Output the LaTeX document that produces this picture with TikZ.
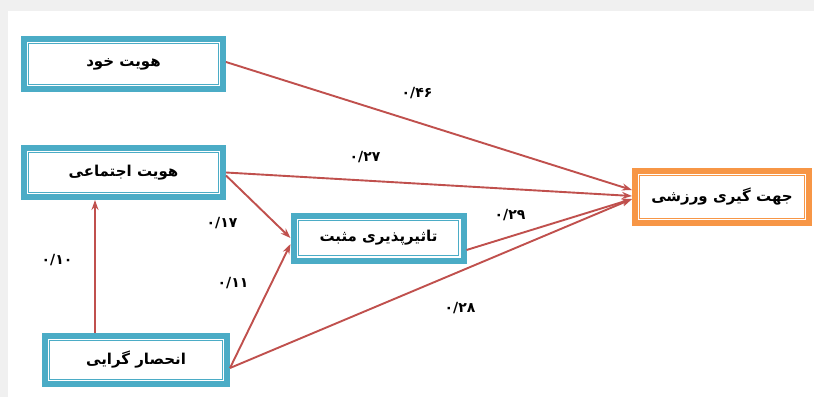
\documentclass[tikz,border=0pt]{standalone}
\usepackage{fontspec}
\usepackage{xcolor}
\usetikzlibrary{arrows.meta}
\TeXXeTstate=1
\newfontfamily\farsi[Script=Arabic]{DejaVu Sans}
\newcommand{\fabox}{\fontsize{15pt}{17pt}\selectfont}
\newcommand{\facoef}{\fontsize{14pt}{16pt}\selectfont}
\definecolor{boxblue}{HTML}{4BACC6}
\definecolor{boxorange}{HTML}{F79646}
\definecolor{pathred}{HTML}{C0504D}

\begin{document}
\begin{tikzpicture}[x=1pt,y=-1pt,
    varbox/.style={draw=#1, line width=6pt, fill=white, inner sep=0pt,
      font=\farsi\bfseries\fabox,
      path picture={\draw[#1, line width=1pt]
        ([shift={(4.6pt,4.6pt)}]path picture bounding box.south west) rectangle
        ([shift={(-4.6pt,-4.6pt)}]path picture bounding box.north east);}},
    effect/.style={draw=pathred, line width=1.9pt, -{Stealth[length=10pt,width=7pt]}},
    coef/.style={font=\farsi\bfseries\facoef, inner sep=1pt}]
  \useasboundingbox (0,0) rectangle (814,397);
  \fill[black!6] (0,0) rectangle (814,397);
  \fill[white] (8,11) rectangle (814,397);

  % Variables
  \node[varbox=boxblue, minimum width=199pt, minimum height=50pt] (self) at (123.5,64) {\beginR هویت خود\endR};
  \node[varbox=boxblue, minimum width=199pt, minimum height=49pt] (social) at (123.5,172.5) {\beginR هویت اجتماعی\endR};
  \node[varbox=boxblue, minimum width=182pt, minimum height=48pt] (excl) at (136,360) {\beginR انحصار گرایی\endR};
  \node[varbox=boxblue, minimum width=170pt, minimum height=45pt] (affect) at (378.5,238) {\beginR تاثیرپذیری مثبت\endR};
  \node[varbox=boxorange, minimum width=174pt, minimum height=52pt] (sport) at (722,197) {\beginR جهت گیری ورزشی\endR};

  % Paths
  \draw[effect] ([yshift=2pt]self.east) -- ([yshift=7pt]sport.west);
  \draw[effect] (social.east) -- ([yshift=1pt]sport.west);
  \draw[effect] ([yshift=-3pt]social.east) -- (affect.west);
  \draw[effect] ([yshift=-8pt]excl.east) -- ([yshift=-6pt]affect.west);
  \draw[effect] ([yshift=-8pt]excl.east) -- ([yshift=-2pt]sport.west);
  \draw[effect] ([yshift=-12pt]affect.east) -- ([yshift=-2pt]sport.west);
  \draw[effect] ([xshift=-41pt]excl.north) -- ([xshift=-41pt]excl.north |- social.south);

  % Coefficients
  \node[coef] (c46) at (417,93) {۰/۴۶};
  \node[coef] (c27) at (365,157) {۰/۲۷};
  \node[coef] (c29) at (510,215) {۰/۲۹};
  \node[coef] (c28) at (460,308) {۰/۲۸};
  \node[coef] (c17) at (222,223) {۰/۱۷};
  \node[coef] (c11) at (233,283) {۰/۱۱};
  \node[coef] (c10) at (57,260) {۰/۱۰};
\end{tikzpicture}
\end{document}
